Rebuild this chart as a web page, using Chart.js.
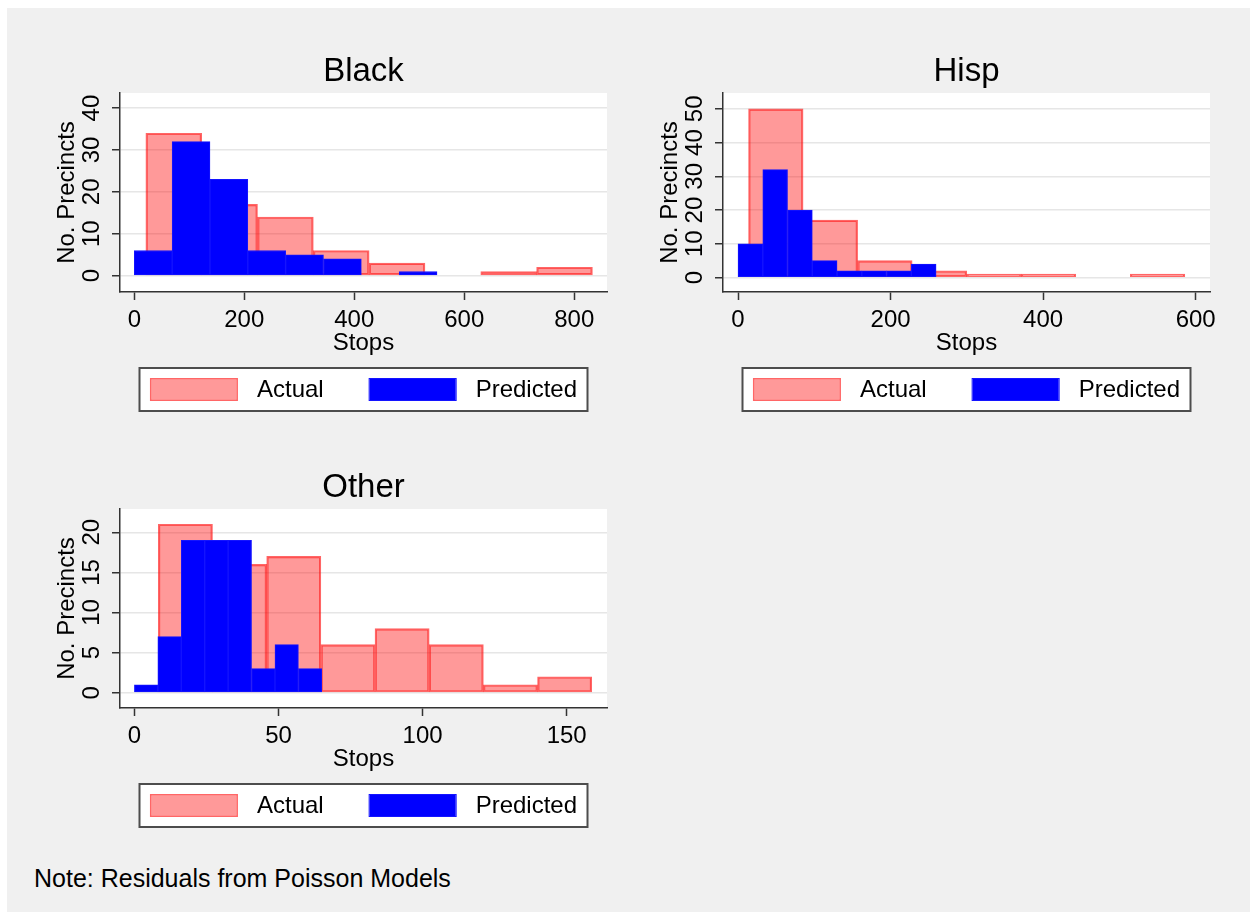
<!DOCTYPE html>
<html lang="en">
<head>
  <meta charset="UTF-8">
  <title>Residuals from Poisson Models</title>
  <script src="https://cdn.jsdelivr.net/npm/chart.js"></script>
  <style>
    body { margin: 0; background: #fff; }
    #bg { position: absolute; left: 7px; top: 8px; width: 1243px; height: 904px; background: #f0f0f0; }
    canvas { position: absolute; }
    #note { position: absolute; left: 34px; top: 863px; font: 25px/30px "Liberation Sans", Arial, sans-serif; color: #000; }
  </style>
</head>
<body>
  <div id="bg"></div>
  <canvas id="black" width="625" height="420" style="left:0;top:0"></canvas>
  <canvas id="hisp" width="625" height="420" style="left:603px;top:0"></canvas>
  <canvas id="other" width="625" height="420" style="left:0;top:416px"></canvas>
  <div id="note">Note: Residuals from Poisson Models</div>
  <script>
    // bins: [first edge, bin width] in stops, counts = precincts per bin
    const blackActualBin = [21, 101.5];
    const blackActual = [34, 17, 14, 6, 3, 0, 1, 2];
    const blackPredictedBin = [0, 68.8];
    const blackPredicted = [6, 32, 23, 6, 5, 4, 0, 1];
    const blackXTicks = [0, 200, 400, 600, 800];
    const blackYTicks = [0, 10, 20, 30, 40];
    const blackXRange = [-26, 859.5];
    const blackYRange = [-3.9, 43.6];

    const hispActualBin = [13.8, 71.5];
    const hispActual = [50, 17, 5, 2, 1, 1, 0, 1];
    const hispPredictedBin = [0, 32.46];
    const hispPredicted = [10, 32, 20, 5, 2, 2, 2, 4];
    const hispXTicks = [0, 200, 400, 600];
    const hispYTicks = [0, 10, 20, 30, 40, 50];
    const hispXRange = [-19.7, 618.8];
    const hispYRange = [-4.3, 54.7];

    const otherActualBin = [8.3, 18.8];
    const otherActual = [21, 16, 17, 6, 8, 6, 1, 2];
    const otherPredictedBin = [0, 8.13];
    const otherPredicted = [1, 7, 19, 19, 19, 3, 6, 3];
    const otherXTicks = [0, 50, 100, 150];
    const otherYTicks = [0, 5, 10, 15, 20];
    const otherXRange = [-5, 164];
    const otherYRange = [-1.9, 22.9];

    const FONT = '"Liberation Sans", Arial, sans-serif';
    Chart.defaults.font.family = FONT;
    Chart.defaults.color = '#000';

    // white plot region
    const plotBg = {
      id: 'plotBg',
      beforeDraw(chart) {
        const { ctx, chartArea: a } = chart;
        ctx.save();
        ctx.fillStyle = '#fff';
        ctx.fillRect(a.left, a.top, a.width, a.height);
        ctx.restore();
      }
    };

    // Stata style framed legend under the axis title
    const boxLegend = {
      id: 'boxLegend',
      afterDraw(chart) {
        const { ctx, chartArea } = chart;
        const cx = (chartArea.left + chartArea.right) / 2;
        const w = 448, h = 43;
        const left = cx - w / 2, top = chartArea.bottom + 76;
        ctx.save();
        ctx.fillStyle = '#fff';
        ctx.fillRect(left, top, w, h);
        ctx.strokeStyle = '#4d4d4d';
        ctx.lineWidth = 2;
        ctx.strokeRect(left, top, w, h);

        ctx.font = '24px ' + FONT;
        ctx.textBaseline = 'middle';
        const sw = 88, sh = 23, gap = 19, sep = 45;
        const sets = chart.data.datasets;
        const tw = sets.map(d => ctx.measureText(d.label).width);
        const total = tw.reduce((s, t) => s + sw + gap + t, 0) + sep * (sets.length - 1);
        let x = cx - total / 2;
        const y = top + (h - sh) / 2;
        sets.forEach((d, i) => {
          const b = d.borderWidth;
          ctx.beginPath();
          ctx.rect(x, y, sw, sh);
          ctx.rect(x + b, y + b, sw - 2 * b, sh - 2 * b);
          ctx.fillStyle = d.borderColor;
          ctx.fill('evenodd');
          ctx.fillStyle = d.backgroundColor;
          ctx.fillRect(x + b, y + b, sw - 2 * b, sh - 2 * b);
          ctx.fillStyle = '#000';
          ctx.fillText(d.label, x + sw + gap, y + sh / 2 + 1);
          x += sw + gap + tw[i] + sep;
        });
        ctx.restore();
      }
    };

    function toPoints(bin, counts) {
      return counts.map((c, i) => ({ x: bin[0] + bin[1] * (i + 0.5), y: c }));
    }

    function makePanel(id, title, actualBin, actual, predBin, pred, xTicks, yTicks, xRange, yRange) {
      const setTicks = list => scale => { scale.ticks = list.map(v => ({ value: v })); };
      new Chart(document.getElementById(id), {
        type: 'bar',
        data: {
          datasets: [
            {
              label: 'Actual',
              data: toPoints(actualBin, actual),
              xAxisID: 'x',
              order: 2,
              backgroundColor: 'rgba(255,0,0,0.4)',
              borderColor: 'rgba(255,0,0,0.6)',
              borderWidth: 1.5,
              borderSkipped: false,
              barPercentage: 1,
              categoryPercentage: 1,
              grouped: false
            },
            {
              label: 'Predicted',
              data: toPoints(predBin, pred),
              xAxisID: 'x2',
              order: 1,
              backgroundColor: '#0000ff',
              borderColor: '#1414ff',
              borderWidth: 1,
              borderSkipped: false,
              barPercentage: 1,
              categoryPercentage: 1,
              grouped: false
            }
          ]
        },
        options: {
          responsive: false,
          animation: false,
          devicePixelRatio: 1,
          layout: { padding: { top: 0, left: 0, right: 18, bottom: 60 } },
          plugins: {
            legend: { display: false },
            tooltip: { enabled: false },
            title: {
              display: true,
              text: title,
              fullSize: false,
              color: '#000',
              font: { size: 33, weight: 'normal' },
              padding: { top: 52, bottom: 1.4 }
            }
          },
          scales: {
            x: {
              type: 'linear',
              position: 'bottom',
              min: xRange[0],
              max: xRange[1],
              offset: false,
              afterBuildTicks: setTicks(xTicks),
              afterFit: s => { s.height = 68; },
              ticks: { autoSkip: false, maxRotation: 0, padding: 5.6, color: '#000', font: { size: 24 } },
              grid: { offset: false, drawOnChartArea: false, tickLength: 8, tickColor: '#333', tickWidth: 1.5 },
              border: { display: true, color: '#333', width: 1.5 },
              title: { display: true, text: 'Stops', color: '#000', font: { size: 24 }, padding: { top: 0, bottom: 2.6 } }
            },
            x2: {
              type: 'linear',
              display: false,
              min: xRange[0],
              max: xRange[1],
              offset: false,
              afterBuildTicks: setTicks(xTicks)
            },
            y: {
              min: yRange[0],
              max: yRange[1],
              afterBuildTicks: setTicks(yTicks),
              afterFit: s => { s.width = 120; },
              ticks: { minRotation: 90, maxRotation: 90, crossAlign: 'center', padding: 6.7, color: '#000', font: { size: 24 } },
              grid: { color: '#e6e6e6', lineWidth: 1.5, tickLength: 8, tickColor: '#333', tickWidth: 1.5 },
              border: { display: true, color: '#333', width: 1.5 },
              title: { display: true, text: 'No. Precincts', color: '#000', font: { size: 24 }, padding: { top: 52.6, bottom: 0 } }
            }
          }
        },
        plugins: [plotBg, boxLegend]
      });
    }

    makePanel('black', 'Black', blackActualBin, blackActual, blackPredictedBin, blackPredicted,
      blackXTicks, blackYTicks, blackXRange, blackYRange);
    makePanel('hisp', 'Hisp', hispActualBin, hispActual, hispPredictedBin, hispPredicted,
      hispXTicks, hispYTicks, hispXRange, hispYRange);
    makePanel('other', 'Other', otherActualBin, otherActual, otherPredictedBin, otherPredicted,
      otherXTicks, otherYTicks, otherXRange, otherYRange);
  </script>
</body>
</html>
